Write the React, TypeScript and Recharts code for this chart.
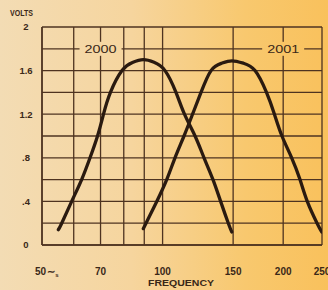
import React from "react";
import {
  LineChart,
  Line,
  XAxis,
  YAxis,
  CartesianGrid,
  ReferenceDot,
  Customized,
} from "recharts";

// frequency (c/s) and output volts
const freq2000 = [54.9, 56.0, 59.3, 62.8, 65.9, 68.8, 71.2, 74.1, 79.2, 84.1, 89.5, 95.2, 101.4, 108.0, 113.4, 120.5, 126.9, 133.6, 139.6, 145.9, 148.8];
const volts2000 = [0.14, 0.2, 0.4, 0.6, 0.8, 1.0, 1.2, 1.4, 1.6, 1.674, 1.7, 1.676, 1.6, 1.4, 1.2, 1.0, 0.8, 0.6, 0.4, 0.2, 0.12];

const freq2001 = [89.5, 90.9, 96.7, 102.4, 107.4, 113.1, 118.8, 124.7, 132.1, 140.3, 149.0, 159.2, 170.1, 181.7, 190.2, 198.6, 210.0, 220.3, 229.7, 243.0, 249.6];
const volts2001 = [0.15, 0.2, 0.4, 0.6, 0.8, 1.0, 1.2, 1.4, 1.6, 1.6675, 1.69, 1.6675, 1.6, 1.4, 1.2, 1.0, 0.8, 0.6, 0.4, 0.2, 0.12];

const freqTicks = [50, 60, 70, 80, 90, 100, 150, 200, 250];
const freqLabels = [50, 70, 100, 150, 200, 250];
const voltTicks = [0, 0.2, 0.4, 0.6, 0.8, 1, 1.2, 1.4, 1.6, 1.8, 2];
const voltLabels: Record<string, string> = { "0": "0", "0.4": ".4", "0.8": ".8", "1.2": "1.2", "1.6": "1.6", "2": "2" };

const curveLabels = [
  { name: "2000", f: 70, v: 1.8 },
  { name: "2001", f: 200, v: 1.8 },
];

const data2000 = freq2000.map((f, i) => ({ f, v: volts2000[i] }));
const data2001 = freq2001.map((f, i) => ({ f, v: volts2001[i] }));

const INK = "#3a2818";
const GRID = "#4e3320";
const BG_STOPS = [
  ["0%", "#f3dcb4"],
  ["40%", "#f6d59e"],
  ["75%", "#f8c86e"],
  ["100%", "#f9c15c"],
];
const bgCss = `linear-gradient(90deg, ${BG_STOPS.map((s) => `${s[1]} ${s[0]}`).join(", ")})`;
const font = "'Liberation Sans', Arial, sans-serif";

const FreqTick = (props: any) => {
  const { x, y, payload } = props;
  const v = payload.value;
  if (!freqLabels.includes(v)) return null;
  if (v === 50) {
    return (
      <text x={x - 7} y={y + 22} fill={INK} fontSize={10} fontWeight="bold" fontFamily={font}>
        50<tspan dx={1}>∼</tspan>
        <tspan fontSize={6} dy={2}>s</tspan>
      </text>
    );
  }
  return (
    <text x={x} y={y + 22} textAnchor="middle" fill={INK} fontSize={10} fontWeight="bold" fontFamily={font}>
      {v}
    </text>
  );
};

const VoltTick = (props: any) => {
  const { y, payload } = props;
  const key = String(Math.round(payload.value * 10) / 10);
  const label = voltLabels[key];
  if (!label) return null;
  return (
    <text x={26} y={y} dy="0.35em" textAnchor="middle" fill={INK} fontSize={9.5} fontWeight="bold" fontFamily={font}>
      {label}
    </text>
  );
};

const CurveName = (name: string) => (props: any) => {
  const { cx, cy } = props;
  return (
    <g>
      <defs>
        <linearGradient id={"bg" + name} gradientUnits="userSpaceOnUse" x1={0} y1={0} x2={328} y2={0}>
          {BG_STOPS.map((s) => (
            <stop key={s[0]} offset={s[0]} stopColor={s[1]} />
          ))}
        </linearGradient>
      </defs>
      <rect x={cx - 21} y={cy - 7} width={42} height={14} fill={`url(#bg${name})`} />
      <text x={cx} y={cy} dy="0.36em" textAnchor="middle" fill={INK} fontSize={11.5} fontFamily={font} textLength={32} lengthAdjust="spacingAndGlyphs">
        {name}
      </text>
    </g>
  );
};

const Titles = () => (
  <g fontFamily={font} fill={INK} fontWeight="bold">
    <text x={10} y={16} fontSize={8.5} textLength={23} lengthAdjust="spacingAndGlyphs">VOLTS</text>
    <text x={148} y={286} fontSize={8.5} textLength={66} lengthAdjust="spacingAndGlyphs">FREQUENCY</text>
  </g>
);

export default function App() {
  return (
    <div style={{ position: "absolute", left: 0, top: 0, width: 328, height: 290, background: bgCss }}>
      <LineChart width={328} height={290} margin={{ top: 27, right: 6, bottom: 0, left: 0 }}>
        <CartesianGrid stroke={GRID} strokeWidth={1.3} />
        <XAxis
          dataKey="f"
          type="number"
          scale="log"
          domain={[50, 250]}
          ticks={freqTicks}
          allowDataOverflow
          height={45}
          tickLine={false}
          axisLine={{ stroke: GRID, strokeWidth: 1.5 }}
          tick={<FreqTick />}
          interval={0}
        />
        <YAxis
          dataKey="v"
          type="number"
          domain={[0, 2]}
          ticks={voltTicks}
          width={42}
          tickLine={false}
          axisLine={{ stroke: GRID, strokeWidth: 1.5 }}
          tick={<VoltTick />}
          interval={0}
        />
        <Line data={data2000} dataKey="v" type="natural" stroke="#2a1a10" strokeWidth={3.3} dot={false} strokeLinecap="round" isAnimationActive={false} />
        <Line data={data2001} dataKey="v" type="natural" stroke="#2a1a10" strokeWidth={3.3} dot={false} strokeLinecap="round" isAnimationActive={false} />
        {curveLabels.map((c) => (
          <ReferenceDot key={c.name} x={c.f} y={c.v} r={0} shape={CurveName(c.name)} />
        ))}
        <Customized component={Titles} />
      </LineChart>
    </div>
  );
}
